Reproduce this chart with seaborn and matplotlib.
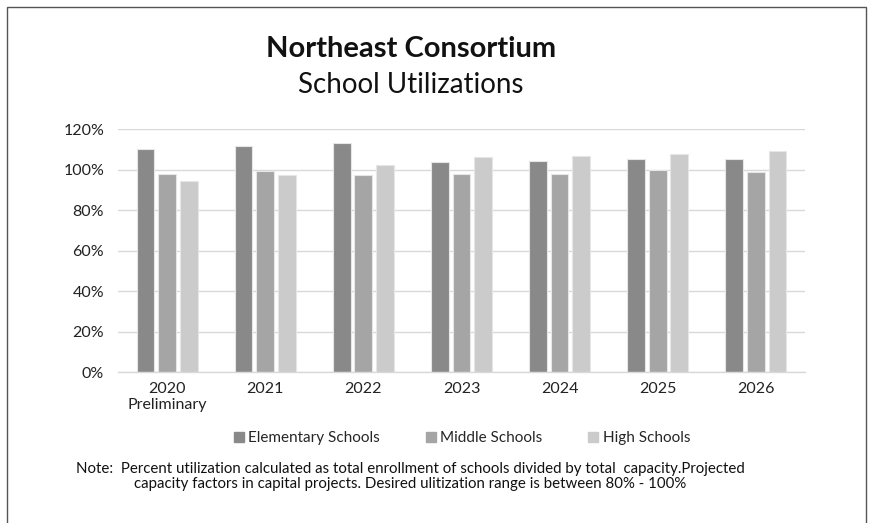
import pandas as pd
import matplotlib.pyplot as plt
import matplotlib.patches as mpatches
from matplotlib.ticker import PercentFormatter
import seaborn as sns

sns.set_theme(style="white")
plt.rcParams["font.family"] = ["Lato", "DejaVu Sans"]

# === datos ===
years = ["2020\nPreliminary", "2021", "2022", "2023", "2024", "2025", "2026"]
elementary = [1.10, 1.117, 1.13, 1.038, 1.04, 1.05, 1.053]
middle = [0.978, 0.995, 0.975, 0.98, 0.978, 0.997, 0.99]
high = [0.945, 0.975, 1.023, 1.062, 1.067, 1.078, 1.093]

series = ["Elementary Schools", "Middle Schools", "High Schools"]
colors = ["#898989", "#a5a5a5", "#cbcbcb"]

note_lines = [
    "Note:  Percent utilization calculated as total enrollment of schools divided by total  capacity.Projected",
    "capacity factors in capital projects. Desired ulitization range is between 80% - 100%",
]

df = pd.DataFrame({
    "year": years * 3,
    "school": [series[0]] * 7 + [series[1]] * 7 + [series[2]] * 7,
    "util": elementary + middle + high,
})

fig = plt.figure(figsize=(8.69, 5.23), dpi=100)
ax = fig.add_axes([0.1358, 0.2887, 0.7905, 0.4646])

sns.barplot(data=df, x="year", y="util", hue="school", palette=colors,
            width=0.66, gap=0.18, edgecolor="#e6e6e6", linewidth=0.8,
            ax=ax, legend=False)

ax.set_ylim(0, 1.2)
ax.set_yticks([0, 0.2, 0.4, 0.6, 0.8, 1.0, 1.2])
ax.yaxis.set_major_formatter(PercentFormatter(1.0, decimals=0))
ax.grid(axis="y", color="#d9d9d9", linewidth=1)
ax.set_axisbelow(True)
for s in ["top", "right", "left"]:
    ax.spines[s].set_visible(False)
ax.spines["bottom"].set_color("#d9d9d9")
ax.spines["bottom"].set_linewidth(1)
ax.tick_params(axis="y", length=0, labelsize=11.5, colors="#222222", pad=10)
ax.tick_params(axis="x", length=0, labelsize=11.5, colors="#222222", pad=7)
ax.set_xlabel("")
ax.set_ylabel("")

# titulos
fig.text(411 / 869, 1 - 49 / 523, "Northeast Consortium", ha="center", va="center",
         fontsize=21, fontweight="bold", color="#111111")
fig.text(411 / 869, 1 - 85 / 523, "School Utilizations", ha="center", va="center",
         fontsize=20, color="#111111")

# leyenda
handles = [mpatches.Patch(color=c, label=l) for c, l in zip(colors, series)]
fig.legend(handles=handles, loc="center", bbox_to_anchor=(462 / 869, 1 - 438 / 523),
           ncol=3, frameon=False, fontsize=11, handlelength=0.65, handleheight=0.65,
           handletextpad=0.3, columnspacing=3.0)

# nota
fig.text(410 / 869, 1 - 469 / 523, note_lines[0], ha="center", va="center",
         fontsize=10.8, color="#111111")
fig.text(410 / 869, 1 - 484 / 523, note_lines[1], ha="center", va="center",
         fontsize=10.8, color="#111111")

# marco
fig.patches.append(mpatches.Rectangle((7 / 869, -0.05), 859 / 869, 1.05 - 7 / 523,
                                      transform=fig.transFigure, fill=False,
                                      edgecolor="#555555", linewidth=1))

fig.savefig("out.png", dpi=100)
plt.close()
